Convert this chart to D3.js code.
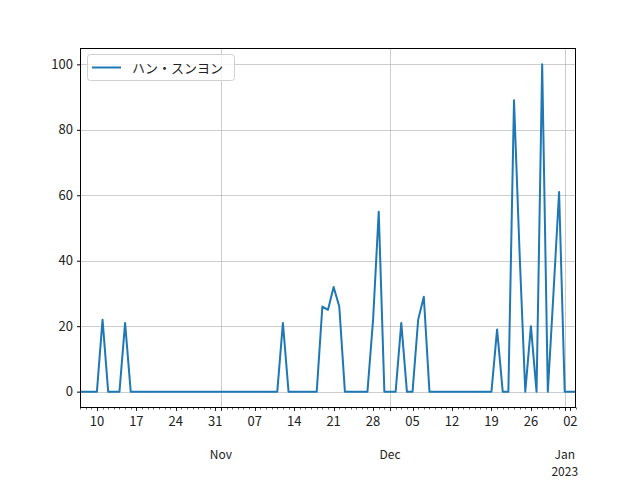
<!DOCTYPE html>
<html>
<head>
<meta charset="utf-8">
<script src="https://cdn.jsdelivr.net/npm/d3@7"></script>
<style>
  html, body { margin: 0; padding: 0; background: #fff; }
  svg { display: block; }
  text { font-family: "Noto Sans CJK JP", "DejaVu Sans", sans-serif; }
</style>
</head>
<body>
<svg id="chart" width="640" height="480"></svg>
<script>
// ---- data ----
const seriesName = "ハン・スンヨン";
const startDate = "2022-10-07";
const endDate = "2023-01-03";
// daily values from 2022-10-07 to 2023-01-03
const values = [
  0, 0, 0, 0, 22, 0, 0, 0, 21, 0,          // Oct 7 - Oct 16
  0, 0, 0, 0, 0, 0, 0, 0, 0, 0,            // Oct 17 - Oct 26
  0, 0, 0, 0, 0, 0, 0, 0, 0, 0,            // Oct 27 - Nov 5
  0, 0, 0, 0, 0, 0, 21, 0, 0, 0,           // Nov 6 - Nov 15
  0, 0, 0, 26, 25, 32, 26, 0, 0, 0,        // Nov 16 - Nov 25
  0, 0, 22, 55, 0, 0, 0, 21, 0, 0,         // Nov 26 - Dec 5
  22, 29, 0, 0, 0, 0, 0, 0, 0, 0,          // Dec 6 - Dec 15
  0, 0, 0, 0, 19, 0, 0, 89, 42, 0,         // Dec 16 - Dec 25
  20, 0, 100, 0, 30, 61, 0, 0, 0           // Dec 26 - Jan 3
];
const yTicks = [0, 20, 40, 60, 80, 100];
const monthLabels = ["Nov", "Dec", "Jan"];
const yearLabel = "2023";

// ---- layout ----
const parse = d3.timeParse("%Y-%m-%d");
const t0 = parse(startDate), t1 = parse(endDate);
const dates = values.map((v, i) => d3.timeDay.offset(t0, i));
const data = dates.map((d, i) => ({date: d, value: values[i]}));

const L = 80, R = 576, T = 48, B = 408;
const svg = d3.select("#chart");
const x = d3.scaleTime().domain([t0, t1]).range([L, R]);
const y = d3.scaleLinear().domain([-5, 105]).range([B, T]);

const gridColor = "#b0b0b0";
const months = d3.timeMonth.range(d3.timeDay.offset(t0, 1), t1);
const weeks = d3.timeMonday.range(t0, t1);
const days = d3.timeDay.range(t0, d3.timeDay.offset(t1, 1));

// grid
const grid = svg.append("g").attr("stroke", gridColor).attr("stroke-width", 0.8).attr("stroke-opacity", 0.8);
grid.selectAll("line.h").data(yTicks).join("line")
  .attr("x1", L).attr("x2", R)
  .attr("y1", d => Math.round(y(d)) + 0.5).attr("y2", d => Math.round(y(d)) + 0.5);
grid.selectAll("line.v").data(months).join("line")
  .attr("y1", T).attr("y2", B)
  .attr("x1", d => Math.round(x(d)) + 0.5).attr("x2", d => Math.round(x(d)) + 0.5);

// line
svg.append("path").datum(data)
  .attr("fill", "none").attr("stroke", "#1f77b4").attr("stroke-width", 2)
  .attr("stroke-linejoin", "round")
  .attr("d", d3.line().x(d => x(d.date)).y(d => y(d.value)));

// frame
svg.append("rect").attr("x", L + 0.5).attr("y", T + 0.5)
  .attr("width", R - L - 1).attr("height", B - T - 1)
  .attr("fill", "none").attr("stroke", "#000").attr("stroke-width", 1);

// y axis
const yAxis = svg.append("g").attr("transform", `translate(${L + 0.5},0)`)
  .call(d3.axisLeft(y).tickValues(yTicks).tickSize(3.5).tickPadding(4).tickFormat(d3.format("d")));
yAxis.select(".domain").remove();
yAxis.selectAll("line").attr("stroke", "#000");
yAxis.selectAll("text").attr("font-size", 13).attr("fill", "#222").attr("font-family", "Noto Sans CJK JP");

// x minor (daily) ticks
const xg = svg.append("g").attr("transform", `translate(0,${B - 0.5})`);
xg.selectAll("line.day").data(days).join("line")
  .attr("x1", d => Math.round(x(d)) + 0.5).attr("x2", d => Math.round(x(d)) + 0.5)
  .attr("y1", 0).attr("y2", 2).attr("stroke", "#000").attr("stroke-width", 0.6);
// weekly ticks
xg.selectAll("line.wk").data(weeks).join("line")
  .attr("x1", d => Math.round(x(d)) + 0.5).attr("x2", d => Math.round(x(d)) + 0.5)
  .attr("y1", 0).attr("y2", 3.5).attr("stroke", "#000").attr("stroke-width", 0.8);
xg.selectAll("text.wk").data(weeks).join("text")
  .attr("x", d => x(d)).attr("y", 18)
  .attr("text-anchor", "middle").attr("font-size", 13).attr("fill", "#222")
  .text(d3.timeFormat("%d"));
// month ticks
xg.selectAll("line.mo").data(months).join("line")
  .attr("x1", d => Math.round(x(d)) + 0.5).attr("x2", d => Math.round(x(d)) + 0.5)
  .attr("y1", 0).attr("y2", 3.5).attr("stroke", "#000").attr("stroke-width", 0.8);
xg.selectAll("text.mo").data(months).join("text")
  .attr("x", d => x(d)).attr("y", 51.5)
  .attr("text-anchor", "middle").attr("font-size", 12).attr("fill", "#222")
  .text((d, i) => monthLabels[i]);
xg.append("text")
  .attr("x", x(months[months.length - 1])).attr("y", 68.5)
  .attr("text-anchor", "middle").attr("font-size", 12).attr("fill", "#222")
  .text(yearLabel);

// legend
const lg = svg.append("g");
lg.append("rect").attr("x", 87.5).attr("y", 54.5).attr("width", 147).attr("height", 26)
  .attr("rx", 3).attr("fill", "#fff").attr("fill-opacity", 0.8)
  .attr("stroke", "#d0d0d0").attr("stroke-width", 1);
lg.append("line").attr("x1", 92).attr("x2", 121).attr("y1", 67.5).attr("y2", 67.5)
  .attr("stroke", "#1f77b4").attr("stroke-width", 2);
lg.append("text").attr("x", 132).attr("y", 72.5).attr("font-size", 13).attr("fill", "#222")
  .text(seriesName);
</script>
</body>
</html>
